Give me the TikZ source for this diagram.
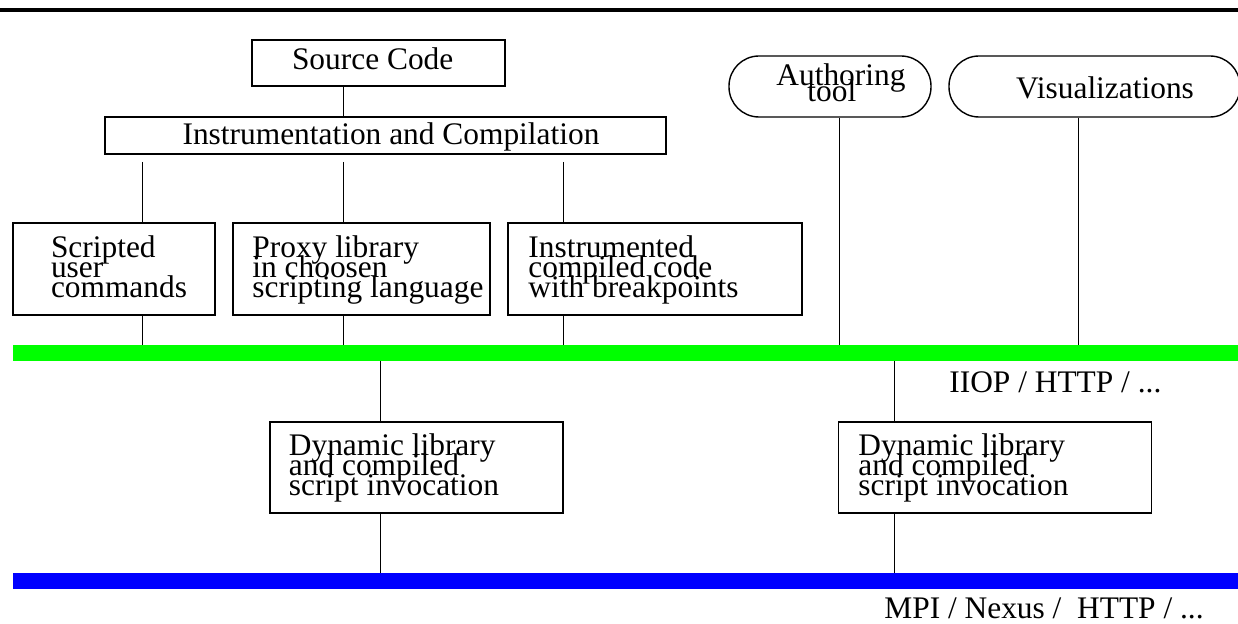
\documentclass[tikz,border=0pt]{standalone}
\usepackage{fontspec}
\setmainfont{Liberation Serif}
\lineskiplimit=-100pt
\definecolor{busgreen}{RGB}{0,255,0}
\definecolor{busblue}{RGB}{0,0,255}
\begin{document}
\begin{tikzpicture}[x=0.5pt,y=-0.5pt,
  box/.style={draw, line width=0.7pt, inner sep=0pt},
  pill/.style={draw, line width=0.7pt, inner sep=0pt, rounded corners=15pt},
  bar/.style={inner sep=0pt, minimum height=8pt},
  txt/.style={inner sep=0pt, align=left, font=\fontsize{15.7}{10}\selectfont},
  conn/.style={line width=0.5pt}]
\useasboundingbox (0,0) rectangle (1238,624);
% top rule
\coordinate (ruleL) at (0,10.5);
\coordinate (ruleR) at (1238,10.5);
\draw[line width=2pt] (ruleL) -- (ruleR);

% boxes
\node[box, minimum width=126.5pt, minimum height=23pt] (src) at (378.5,63) {};
\node[box, minimum width=280.5pt, minimum height=18.5pt] (instr) at (385.5,135.5) {};
\node[box, minimum width=101pt, minimum height=46pt] (s1) at (114,269) {};
\node[box, minimum width=128.5pt, minimum height=46pt] (s2) at (361.5,269) {};
\node[box, minimum width=147pt, minimum height=46pt] (s3) at (655,269) {};
\node[pill, minimum width=101pt, minimum height=30.5pt] (auth) at (830,86.5) {};
\node[pill, minimum width=145.5pt, minimum height=30.5pt] (vis) at (1094.5,86.5) {};
\node[box, minimum width=146.5pt, minimum height=45.5pt] (d1) at (416.5,467.5) {};
\node[box, minimum width=156.5pt, minimum height=45.5pt] (d2) at (995,467.5) {};

% bars
\node[bar, fill=busgreen, minimum width=616pt] (gbar) at (629,353) {};
\node[bar, fill=busblue, minimum width=616pt] (bbar) at (629,581) {};

% texts
\node[txt, anchor=base] (srct) at (372.7,70) {Source Code};
\node[txt, anchor=base] (instrt) at (391,145) {Instrumentation and Compilation};
\node[txt, anchor=west] (s1t) at (50.6,266.3) {Scripted\\user\\commands};
\node[txt, anchor=west] (s2t) at (252,269.7) {Proxy library\\in choosen\\scripting language};
\node[txt, anchor=west] (s3t) at (528,269.7) {Instrumented\\compiled code\\with breakpoints};
\node[txt, anchor=west, font=\fontsize{15.7}{8}\selectfont] (autht) at (776,82.3) {Authoring\\\hspace*{15.5pt}tool};
\node[txt, anchor=base] (vist) at (1105,99) {Visualizations};
\node[txt, anchor=west] (d1t) at (288.5,467.7) {Dynamic library\\and compiled\\script invocation};
\node[txt, anchor=west] (d2t) at (858,467.7) {Dynamic library\\and compiled\\script invocation};
\node[txt, anchor=base west] (iiop) at (949,393) {IIOP / HTTP / ...};
\node[txt, anchor=base west] (mpi) at (884,618.5) {MPI / Nexus /\ \ HTTP / ...};

% x positions of connectors
\coordinate (xa) at (142,0);
\coordinate (xb) at (343,0);
\coordinate (xc) at (563,0);
\coordinate (xd) at (839,0);
\coordinate (xe) at (1078.5,0);
\coordinate (xf) at (380,0);
\coordinate (xg) at (894,0);
\coordinate (ygap) at (0,162);

% connectors
\draw[conn] (xb |- src.south) -- (xb |- instr.north);
\draw[conn] (xa |- ygap) -- (xa |- s1.north);
\draw[conn] (xb |- ygap) -- (xb |- s2.north);
\draw[conn] (xc |- ygap) -- (xc |- s3.north);
\draw[conn] (xa |- s1.south) -- (xa |- gbar.north);
\draw[conn] (xb |- s2.south) -- (xb |- gbar.north);
\draw[conn] (xc |- s3.south) -- (xc |- gbar.north);
\draw[conn] (xd |- auth.south) -- (xd |- gbar.north);
\draw[conn] (xe |- vis.south) -- (xe |- gbar.north);
\draw[conn] (xf |- gbar.south) -- (xf |- d1.north);
\draw[conn] (xf |- d1.south) -- (xf |- bbar.north);
\draw[conn] (xg |- gbar.south) -- (xg |- d2.north);
\draw[conn] (xg |- d2.south) -- (xg |- bbar.north);
\end{tikzpicture}
\end{document}
